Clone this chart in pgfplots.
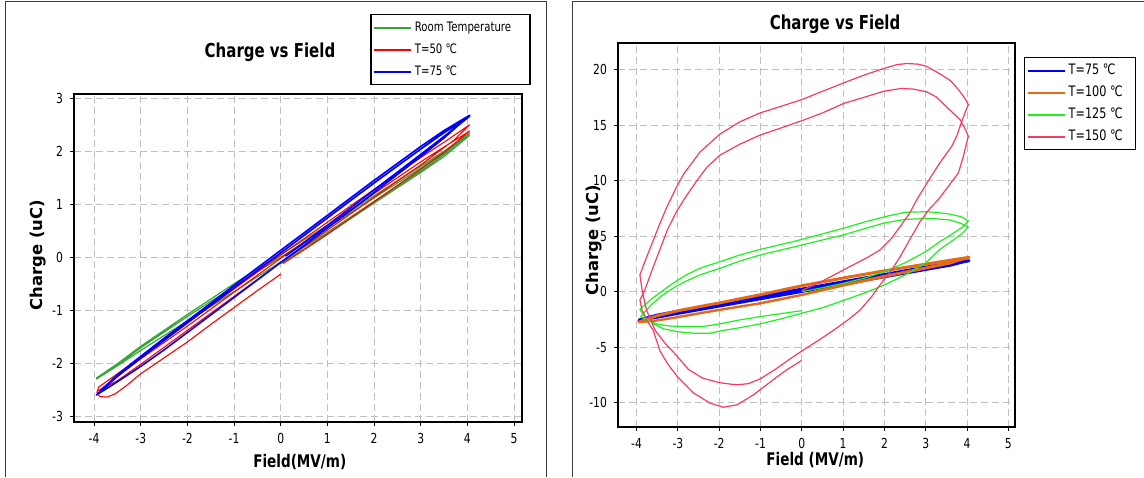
\documentclass[border=0pt]{standalone}
\usepackage{fontspec}
\setmainfont{DejaVu Sans}[FakeStretch=0.78]
\newfontfamily\ylabfont{DejaVu Sans}
\usepackage{pgfplots}
\pgfplotsset{compat=1.18}
\definecolor{lgreen}{RGB}{55,165,55}
\definecolor{rorange}{RGB}{230,105,20}
\definecolor{rgreen}{RGB}{30,240,30}
\definecolor{rpink}{RGB}{245,60,100}
\definecolor{gridc}{RGB}{192,192,192}
\pgfplotsset{
  legend image code/.code={\draw[#1,line width=1pt] (0pt,0pt) -- (18.5pt,0pt);},
  panel/.style={
    scale only axis,
    axis line style={line width=0.75pt},
    tick align=outside, tick pos=left,
    major tick length=2pt,
    tick style={black, line width=0.5pt},
    grid=major,
    grid style={gridc, dash pattern=on 3.5pt off 2pt, line width=0.5pt},
    tick label style={font=\fontsize{6.9}{8}\selectfont},
    /pgf/number format/assume math mode=true,
    xlabel style={font=\bfseries\fontsize{8.7}{10}\selectfont, anchor=center},
    ylabel style={font=\ylabfont\bfseries\fontsize{8.2}{10}\selectfont, anchor=center},
    title style={font=\bfseries\fontsize{9.6}{11}\selectfont, anchor=center},
    legend cell align=left,
    legend style={draw=black, line width=0.7pt, fill=white, inner xsep=1pt, inner ysep=1pt,
      row sep=0pt,
      nodes={inner xsep=1.5pt, inner ysep=2.5pt, text height=5pt, text depth=1pt}},
  }
}
\begin{document}
\begin{tikzpicture}
\useasboundingbox (0,0) rectangle (572pt,238.5pt);
\draw[black!75, line width=0.5pt] (2.75pt,0) -- (2.75pt,237.6pt) -- (273pt,237.6pt) -- (273pt,0);
\draw[black!75, line width=0.5pt] (286pt,0) -- (286pt,237.6pt) -- (572pt,237.6pt);

% ---------------- left panel ----------------
\begin{axis}[panel,
  at={(37pt,27.5pt)}, anchor=south west, width=224pt, height=164pt,
  xmin=-4.43, xmax=5.17, ymin=-3.11, ymax=3.08,
  xtick={-4,...,5}, ytick={-3,...,3},
  title={Charge vs Field}, title style={at={(axis description cs:0.4375,1.091)}},
  xlabel={Field(MV/m)}, xlabel style={at={(axis description cs:0.504,-0.122)}},
  ylabel={Charge (uC)}, ylabel style={at={(axis description cs:-0.080,0.509)}},
  legend style={at={(axis description cs:0.661,1.244)}, anchor=north west,
    font=\fontsize{6.5}{8}\selectfont},
]
\addplot[lgreen, line width=0.6pt, line join=round] coordinates {
(-3.95,-2.28) (-3.5,-2.01) (-3,-1.68) (-2.5,-1.38) (-2,-1.08) (-1.5,-0.79) (-1,-0.5) (-0.5,-0.22) (0,0.05) (0.5,0.33) (1,0.6) (1.5,0.88) (2,1.16) (2.5,1.44) (3,1.72) (3.5,2.0) (4.05,2.34)
(3.5,1.94) (3,1.63) (2.5,1.34) (2,1.05) (1.5,0.76) (1,0.47) (0.5,0.19) (0,-0.09) (-0.5,-0.37) (-1,-0.65) (-1.5,-0.93) (-2,-1.2) (-2.5,-1.48) (-3,-1.76) (-3.5,-2.05) (-3.95,-2.3)
(-3.5,-2.03) (-3,-1.71) (-2,-1.12) (-1,-0.55) (0,0.0) (1,0.56) (2,1.12) (3,1.68) (3.5,1.97) (4.05,2.3)
(3.5,1.9) (3,1.6) (2,1.02) (1,0.44) (0.5,0.15) (0,-0.12)
};
\addlegendentry{\makebox[55pt][l]{Room Temperature}}
\addplot[red, line width=0.55pt, line join=round] coordinates {
(0,-0.32) (-0.5,-0.63) (-1,-0.95) (-1.5,-1.27) (-2,-1.6) (-2.5,-1.9) (-3,-2.2) (-3.3,-2.42) (-3.55,-2.58) (-3.72,-2.64) (-3.88,-2.63) (-3.94,-2.55) (-3.9,-2.45)
(-3.5,-2.2) (-3,-1.88) (-2.5,-1.56) (-2,-1.24) (-1.5,-0.92) (-1,-0.6) (-0.5,-0.28) (0,0.04) (0.5,0.35) (1,0.66) (1.5,0.97) (2,1.28) (2.5,1.58) (3,1.88) (3.5,2.17) (4.05,2.5)
(3.7,2.2) (3.5,2.07) (3,1.74) (2.5,1.44) (2,1.13) (1.5,0.82) (1,0.51) (0.5,0.2) (0,-0.1) (-0.5,-0.42) (-1,-0.74) (-1.5,-1.06) (-2,-1.38) (-2.5,-1.7) (-3,-2.02) (-3.5,-2.33) (-3.9,-2.52)
(-3.5,-2.25) (-3,-1.92) (-2,-1.3) (-1,-0.66) (0,-0.02) (1,0.6) (2,1.2) (3,1.8) (3.5,2.08) (4.05,2.38)
(3.5,1.98) (3,1.66) (2,1.05) (1,0.43) (0.5,0.14) (0.05,-0.12)
};
\addlegendentry{T=50 ℃}
\addplot[blue, line width=0.8pt, line join=round] coordinates {
(-3.95,-2.6) (-3.5,-2.22) (-3,-1.87) (-2.5,-1.53) (-2,-1.2) (-1.5,-0.87) (-1,-0.53) (-0.5,-0.2) (0,0.13) (0.5,0.46) (1,0.79) (1.5,1.12) (2,1.45) (2.5,1.77) (3,2.09) (3.5,2.39) (4.05,2.68)
(3.5,2.25) (3,1.9) (2.5,1.56) (2,1.22) (1.5,0.88) (1,0.55) (0.5,0.22) (0,-0.1) (-0.5,-0.43) (-1,-0.76) (-1.5,-1.09) (-2,-1.42) (-2.5,-1.75) (-3,-2.06) (-3.5,-2.35) (-3.95,-2.6)
(-3.5,-2.25) (-3,-1.9) (-2,-1.24) (-1,-0.58) (0,0.08) (1,0.74) (2,1.4) (3,2.04) (3.5,2.35) (4.05,2.66)
(3.5,2.28) (3,1.94) (2,1.27) (1,0.6) (0.5,0.27) (0.1,0.02)
};
\addlegendentry{T=75 ℃}
\end{axis}

% ---------------- right panel ----------------
\begin{axis}[panel,
  at={(309pt,25pt)}, anchor=south west, width=198.5pt, height=192pt,
  xmin=-4.45, xmax=5.16, ymin=-12.2, ymax=22.4,
  xtick={-4,...,5}, ytick={-10,-5,...,20},
  title={Charge vs Field}, title style={at={(axis description cs:0.5466,1.018)}},
  xlabel={Field (MV/m)}, xlabel style={at={(axis description cs:0.497,-0.086)}},
  ylabel={Charge (uC)}, ylabel style={at={(axis description cs:-0.061,0.487)}},
  legend style={at={(axis description cs:1.0227,0.964)}, anchor=north west,
    font=\fontsize{7.2}{8.5}\selectfont},
]
\addplot[blue, line width=1.3pt, line join=round] coordinates {
(-3.95,-2.55) (-3.5,-2.1) (-3,-1.75) (-2,-1.08) (-1,-0.42) (0,0.24) (1,0.9) (2,1.56) (3,2.22) (3.59,2.6) (4.05,2.8)
(3.59,2.36) (3,1.98) (2,1.32) (1,0.66) (0,0.0) (-1,-0.66) (-2,-1.32) (-3,-1.98) (-3.5,-2.32) (-3.95,-2.6)
(-3.5,-2.2) (-3,-1.86) (-2,-1.2) (-1,-0.54) (0,0.12) (1,0.78) (2,1.44) (3,2.1) (3.59,2.48) (4.05,2.76)
};
\addlegendentry{\makebox[31pt][l]{T=75 ℃}}
\addplot[rorange, line width=1.2pt, line join=round] coordinates {
(-3.95,-2.72) (-3.5,-2.15) (-3,-1.7) (-2.47,-1.32) (-2,-1.0) (-1,-0.25) (0,0.55) (1,1.25) (2,1.9) (3,2.5) (3.59,2.85) (4.05,3.12)
(3.59,2.55) (3,2.1) (2,1.35) (1,0.55) (0,-0.3) (-1,-1.05) (-2,-1.65) (-2.47,-1.95) (-3,-2.3) (-3.5,-2.6) (-3.95,-2.75)
(-3.5,-2.2) (-3,-1.75) (-2.47,-1.38) (-2,-1.05) (-1,-0.3) (0,0.5) (1,1.2) (2,1.85) (3,2.45) (3.59,2.8) (4.05,3.05)
(3.59,2.6) (3,2.15) (2,1.4) (1,0.6) (0.3,0.0)
};
\addlegendentry{T=100 ℃}
\addplot[rgreen, line width=0.6pt, line join=round] coordinates {
(0,0.0) (0.5,0.35) (1,0.75) (1.5,1.2) (2,1.8) (2.5,2.6) (3,3.6) (3.34,4.5) (3.67,5.26) (3.9,5.85) (4.03,6.37)
(3.85,6.75) (3.59,6.98) (3.34,7.1) (3.02,7.2) (2.5,7.15) (2.01,6.75) (1.5,6.25) (1,5.7) (0.5,5.2) (0,4.7) (-0.5,4.25) (-1.01,3.8) (-1.5,3.3) (-1.98,2.7) (-2.47,2.1) (-2.8,1.5) (-3.1,0.8) (-3.4,0.0) (-3.65,-0.7) (-3.92,-1.6)
(-3.8,-2.3) (-3.6,-2.9) (-3.35,-3.35) (-3,-3.62) (-2.6,-3.75) (-2.23,-3.75) (-1.98,-3.55) (-1.5,-3.25) (-1,-2.9) (-0.5,-2.45) (0,-1.95) (0.5,-1.45) (0.92,-0.91) (1.5,-0.15) (2,0.6) (2.5,1.5) (3,2.6) (3.34,3.8) (3.67,4.66) (3.9,5.3) (4.03,5.8)
(3.85,6.15) (3.59,6.45) (3.1,6.6) (2.5,6.5) (2.01,6.2) (1.5,5.65) (1,5.1) (0.5,4.65) (0,4.2) (-0.5,3.75) (-1.01,3.3) (-1.5,2.75) (-1.98,2.1) (-2.47,1.5) (-2.8,0.95) (-3.1,0.35) (-3.4,-0.4) (-3.65,-1.2) (-3.9,-2.25)
(-3.75,-2.6) (-3.5,-2.92) (-3.2,-3.1) (-2.8,-3.15) (-2.4,-3.15) (-1.98,-2.9) (-1.5,-2.55) (-1,-2.25) (-0.5,-1.98) (0,-1.72)
};
\addlegendentry{T=125 ℃}
\addplot[rpink, line width=0.6pt, line join=round] coordinates {
(0,0.1) (0.5,0.95) (1.16,2.25) (1.6,3.1) (1.89,3.75) (2.15,4.7) (2.38,5.86) (2.6,7.0) (2.78,8.27) (3.05,9.9) (3.34,11.6) (3.63,13.1) (3.75,14.0) (3.87,15.33) (3.96,16.2) (4.03,16.84)
(3.95,17.4) (3.79,18.2) (3.6,19.0) (3.35,19.6) (3.02,20.3) (2.8,20.5) (2.54,20.55) (2.3,20.45) (1.98,20.1) (1.5,19.5) (1.01,18.8) (0.5,18.05) (0,17.3) (-0.5,16.7) (-1.01,16.1) (-1.5,15.3) (-1.98,14.2) (-2.46,12.6) (-2.86,10.6) (-3.05,9.3) (-3.27,7.6) (-3.45,6.0) (-3.63,4.3) (-3.8,2.7) (-3.92,1.5)
(-3.86,0.0) (-3.76,-1.66) (-3.55,-3.5) (-3.3,-4.7) (-3.0,-5.9) (-2.75,-7.0) (-2.4,-7.8) (-2.0,-8.2) (-1.6,-8.4) (-1.3,-8.3) (-1.0,-7.85) (-0.6,-6.9) (-0.3,-6.1) (0,-5.35)
(0.4,-4.4) (0.76,-3.5) (1.1,-2.6) (1.41,-1.66) (1.7,-0.4) (1.97,1.0) (2.2,2.1) (2.38,3.15) (2.6,4.6) (2.86,6.3) (3.1,7.5) (3.3,8.27) (3.55,9.5) (3.79,10.7) (3.91,12.2) (4.03,14.0)
(3.96,14.6) (3.83,15.5) (3.6,16.3) (3.43,16.9) (3.25,17.55) (3.02,18.0) (2.7,18.25) (2.4,18.3) (1.98,18.05) (1.5,17.5) (1.01,16.95) (0.5,16.1) (0,15.4) (-0.5,14.75) (-1.01,14.1) (-1.49,13.3) (-1.98,12.3) (-2.3,11.2) (-2.54,10.0) (-2.8,8.6) (-3.02,7.3) (-3.25,5.6) (-3.44,3.75) (-3.62,2.0) (-3.8,0.14) (-3.92,-0.76)
(-3.87,-1.66) (-3.75,-2.6) (-3.6,-3.47) (-3.43,-5.37) (-3.25,-6.5) (-3.02,-7.63) (-2.62,-9.14) (-2.22,-10.05) (-1.9,-10.42) (-1.57,-10.2) (-1.17,-9.3) (-0.69,-7.93) (-0.36,-7.03) (0,-6.2)
};
\addlegendentry{T=150 ℃}
\end{axis}
\end{tikzpicture}
\end{document}
